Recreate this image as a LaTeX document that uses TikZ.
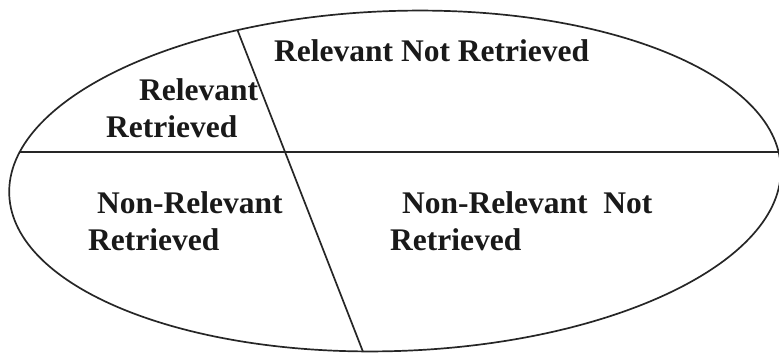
\documentclass[tikz,border=0pt]{standalone}
\usepackage{fontspec}
\setmainfont{Liberation Serif}
\usetikzlibrary{positioning,intersections}

\begin{document}
\begin{tikzpicture}[
    x=1pt, y=-1pt,
    boundary/.style={draw=black!85, line width=1.7pt},
    divider/.style={draw=black!85, line width=1.7pt},
    lbl/.style={font=\fontsize{31.5}{37}\selectfont\bfseries, text=black!90, anchor=base west, inner sep=0pt}
]
    \useasboundingbox (0,0) rectangle (779,353);

    % outer set
    \draw[boundary, name path=outer] (395,181) ellipse [x radius=386, y radius=170, rotate=2];

    % guide lines for the two cuts
    \path[name path=hguide] (-20,152) -- (800,152);
    \path[name path=sguide] (207,-48) -- (383,403);
    \path[name intersections={of=outer and hguide, by={hleft,hright}}];
    \path[name intersections={of=outer and sguide, by={stop,sbot}}];

    \draw[divider] (hleft) -- (hright);
    \draw[divider] (stop) -- (sbot);

    % labels
    \node[lbl] (relnotret) at (274,62) {Relevant Not Retrieved};
    \node[lbl] (relret1) at (139,100) {Relevant};
    \node[lbl] (relret2) at (106,137) {Retrieved};
    \node[lbl] (nonret1) at (97,213) {Non-Relevant};
    \node[lbl] (nonret2) at (88,250) {Retrieved};
    \node[lbl] (nonnot1) at (402,213) {Non-Relevant\ \ Not};
    \node[lbl] (nonnot2) at (390,250) {Retrieved};
\end{tikzpicture}
\end{document}
